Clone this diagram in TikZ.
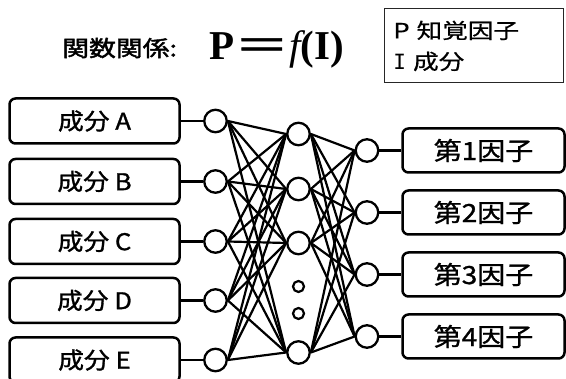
\documentclass[tikz,border=0pt]{standalone}
\usepackage{fontspec}
\usepackage{graphicx}
\newfontfamily\jp[FakeStretch=1.12, FakeBold=1.2]{Noto Sans CJK JP}
\newfontfamily\jphead[FakeStretch=1.22, FakeBold=2]{Noto Sans CJK JP}
\newfontfamily\jpwide[FakeStretch=1.22, FakeBold=0.6]{Noto Sans CJK JP}
\newfontfamily\tms{Liberation Serif}
\newfontfamily\monoI{DejaVu Sans Mono}
\begin{document}
\begin{tikzpicture}[x=1pt,y=-1pt,
  labelbox/.style={draw, line width=2.5pt, rounded corners=6pt, inner sep=0pt},
  inbox/.style={labelbox, minimum width=170pt, minimum height=45pt,
    font=\jp\fontsize{23}{23}\selectfont},
  outbox/.style={labelbox, minimum width=162pt, minimum height=44pt,
    font=\jp\fontsize{25}{25}\selectfont},
  neuron/.style={circle, draw, line width=2.3pt, minimum size=22.5pt, inner sep=0pt},
  dotnode/.style={circle, draw, line width=2.2pt, minimum size=11pt, inner sep=0pt},
  link/.style={line width=2.2pt},
  stub/.style={line width=2.4pt}
]
\useasboundingbox (0,0) rectangle (566,379);

% heading and formula
\node[anchor=west, inner sep=0pt, font=\jphead\fontsize{22}{22}\selectfont] (head) at (62,48) {関数関係:};
\node[anchor=base west, inner sep=0pt] (formula) at (209,60)
  {\fontsize{41}{41}\selectfont{\tms\bfseries P}\scalebox{1.2}[1]{\jp ＝}{\tms\itshape f}{\tms\bfseries (I)}};

% legend
\node[draw=black!85, line width=0.9pt, anchor=north west, minimum width=179pt,
  minimum height=74pt, text width=160pt, align=left, inner xsep=9pt, inner ysep=0pt,
  font=\jpwide\fontsize{21}{31}\selectfont] (legend) at (383.5,8.5)
  {P 知覚因子\\{\monoI I} 成分};

% input components
\foreach \n/\t/\y in {1/A/121, 2/B/181.5, 3/C/241.5, 4/D/300.5, 5/E/360} {
  \node[inbox] (b\n) at (94.5,\y) {成分 \t};
  \node[neuron] (i\n) at (215.5,\y) {};
  \draw[stub] (b\n) -- (i\n);
}

% hidden layer
\foreach \n/\y in {1/134, 2/189, 3/243, 4/352.5}
  \node[neuron] (h\n) at (298.5,\y) {};
\node[dotnode] (d1) at (298.5,286.5) {};
\node[dotnode] (d2) at (298.5,313.5) {};

% factors
\foreach \n/\y in {1/150.5, 2/212.5, 3/274.5, 4/336.5} {
  \node[outbox] (f\n) at (483.5,\y) {第\n 因子};
  \node[neuron] (o\n) at (367,\y) {};
  \draw[stub] (o\n) -- (f\n);
}

% full connections
\foreach \a in {1,...,5}
  \foreach \b in {1,...,4}
    \draw[link] (i\a.east) -- (h\b.west);
\foreach \a in {1,...,4}
  \foreach \b in {1,...,4}
    \draw[link] (h\a.east) -- (o\b.west);
\end{tikzpicture}
\end{document}
